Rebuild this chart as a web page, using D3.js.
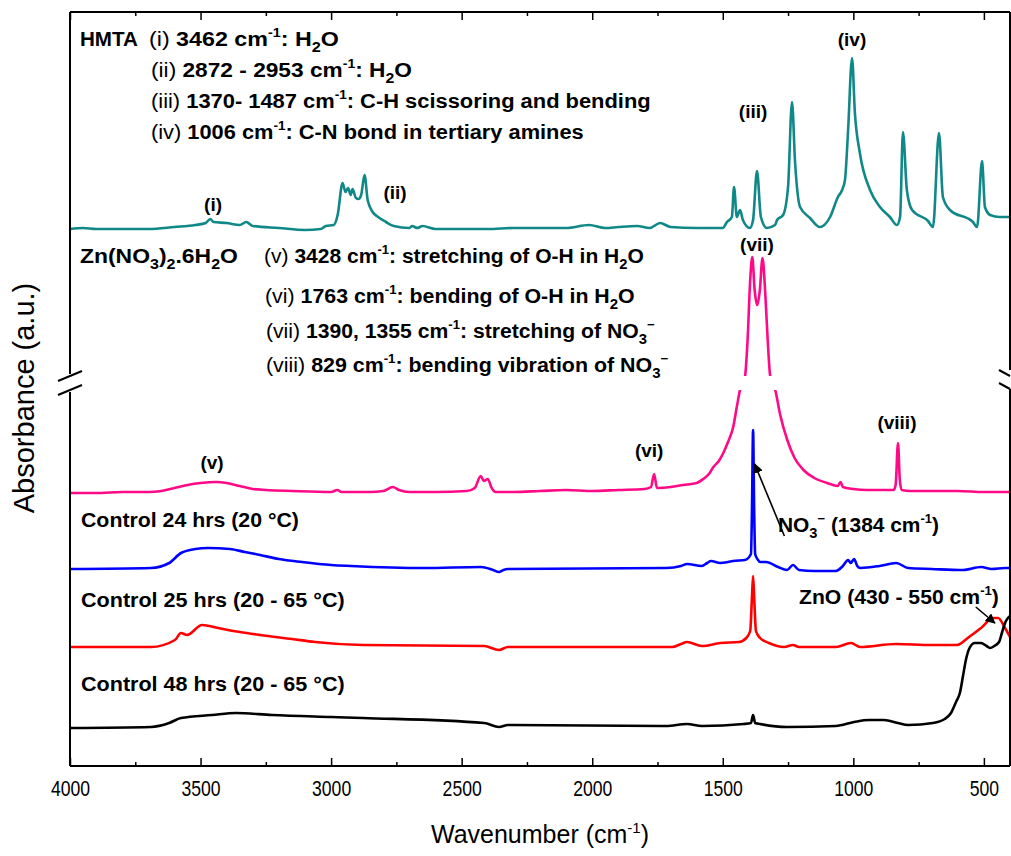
<!DOCTYPE html>
<html>
<head>
<meta charset="utf-8">
<script src="https://cdn.jsdelivr.net/npm/d3@7"></script>
<style>
html, body { margin: 0; padding: 0; background: #fff; }
svg { display: block; }
text { white-space: pre; }
</style>
</head>
<body>
<div id="chart"></div>
<script>
// wavenumber ticks
const majorTicks = [4000, 3500, 3000, 2500, 2000, 1500, 1000, 500];
const minorTicks = [3750, 3250, 2750, 2250, 1750, 1250, 750];

// spectra: [wavenumber (cm-1), absorbance (a.u., stacked offset)]
const hmta = [[4000,537],[3950,538],[3900,537],[3800,537],[3700,537],[3600,539],[3520,541],[3480,543],[3463,547],[3450,544],[3400,543],[3350,541],[3325,544],[3300,540],[3200,538],[3100,536],[3040,537],[3020,540],[2990,541],[2975,551],[2956,583],[2945,574],[2935,578],[2925,571],[2918,577],[2905,568],[2895,567],[2885,571],[2872,591],[2860,566],[2841,554],[2820,549],[2790,544],[2760,540],[2700,538],[2690,540],[2670,538],[2650,540],[2600,537],[2500,537],[2400,537],[2300,538],[2200,538],[2100,538],[2012,541],[1950,538],[1900,539],[1828,540],[1780,538],[1740,543],[1700,539],[1600,538],[1500,538],[1484,544],[1465,549],[1457,579],[1446,549],[1434,556],[1423,546],[1396,538],[1384,546],[1369,595],[1354,549],[1331,538],[1300,541],[1292,546],[1269,551],[1250,579],[1235,664],[1223,603],[1204,559],[1166,548],[1128,539],[1089,549],[1059,569],[1043,576],[1032,586],[1020,636],[1005,708],[994,653],[975,613],[936,576],[898,559],[860,549],[833,541],[821,549],[810,634],[795,576],[775,556],[714,545],[695,539],[672,633],[657,569],[630,556],[542,544],[526,539],[507,605],[496,559],[476,551],[440,549],[400,549]];

const znNitrate = [[4000,273],[3900,273],[3800,274],[3700,274],[3650,275],[3600,278],[3550,281],[3500,283],[3440,284],[3400,283],[3350,280],[3300,277],[3250,276],[3150,275],[3000,274],[2976,276],[2960,274],[2850,274],[2800,275],[2764,279],[2740,276],[2700,274],[2600,274],[2480,275],[2450,278],[2427,290],[2415,285],[2400,287],[2385,278],[2370,274],[2300,274],[2200,275],[2100,276],[2000,275],[1900,276],[1800,277],[1775,279],[1763,292],[1752,278],[1700,279],[1652,281],[1600,283],[1575,287],[1550,293],[1536,299],[1515,305],[1498,313],[1480,324],[1460,339],[1445,361],[1434,376],[1415,389],[1405,426],[1395,486],[1387,509],[1378,476],[1368,461],[1358,476],[1348,508],[1338,476],[1328,426],[1318,389],[1299,376],[1280,351],[1253,326],[1225,308],[1191,296],[1150,288],[1100,283],[1060,280],[1049,284],[1040,279],[1000,277],[950,276],[846,276],[838,281],[829,323],[822,286],[815,276],[780,275],[700,275],[600,275],[500,274],[400,274]];

const control24 = [[4000,197],[3690,198],[3620,203],[3575,213],[3520,217],[3472,218],[3387,217],[3330,214],[3272,211],[3200,207],[3112,204],[3000,201],[2924,200],[2644,198],[2426,199],[2380,196],[2357,194],[2340,196],[2323,197],[1717,198],[1660,200],[1637,202],[1580,200],[1560,203],[1545,205],[1510,203],[1480,204],[1461,205],[1415,206],[1392,212],[1388,260],[1384,336],[1380,260],[1376,212],[1365,206],[1357,204],[1334,204],[1288,199],[1254,196],[1231,201],[1208,196],[1150,195],[1067,195],[1040,200],[1020,206],[1010,203],[997,207],[985,200],[974,198],[900,200],[836,203],[790,198],[700,197],[580,196],[511,199],[470,197],[419,198],[400,198]];

const control25 = [[4000,119],[3690,119],[3598,126],[3575,133],[3552,131],[3494,141],[3433,138],[3350,134],[3272,131],[3150,127],[3062,124],[2878,121],[2414,120],[2357,116],[2323,119],[1694,119],[1660,122],[1637,124],[1580,120],[1510,123],[1438,124],[1410,128],[1395,135],[1388,170],[1384,190],[1380,170],[1373,135],[1357,128],[1323,123],[1265,119],[1231,121],[1208,119],[1067,119],[1009,123],[974,119],[837,122],[700,121],[603,121],[557,129],[511,138],[465,148],[446,148],[419,138],[400,129]];

const control48 = [[4000,38],[3690,39],[3620,43],[3575,48],[3456,51],[3364,53],[3226,51],[3000,49],[2878,48],[2414,43],[2357,39],[2323,41],[1717,40],[1637,42],[1580,40],[1420,42],[1392,43],[1384,51],[1376,43],[1357,42],[1254,39],[1067,40],[997,44],[940,46],[882,46],[830,43],[790,41],[695,43],[650,47],[626,53],[605,65],[592,73],[580,90],[569,106],[555,118],[535,123],[511,123],[490,120],[477,118],[460,120],[442,124],[430,134],[419,143],[408,148],[400,150]];

const series = [
  {name: "HMTA", data: hmta, color: "#118888"},
  {name: "Zn(NO3)2.6H2O", data: znNitrate, color: "#ff0a86", clip: true},
  {name: "Control 24 hrs", data: control24, color: "#0000ff"},
  {name: "Control 25 hrs", data: control25, color: "#ff0000"},
  {name: "Control 48 hrs", data: control48, color: "#000000"}
];

// peak labels: [text, wavenumber, absorbance]
const peakLabels = [["(i)",3452,555],["(ii)",2755,567],["(iii)",1384,648],["(iv)",1005,720],
  ["(v)",3456,297],["(vi)",1782,309],["(vii)",1369,515],["(viii)",833,337]];

const hmtaNotes = ["{(i)} 3462 cm^{-1}: H_{2}O", "{(ii)} 2872 - 2953 cm^{-1}: H_{2}O",
  "{(iii)} 1370- 1487 cm^{-1}: C-H scissoring and bending", "{(iv)} 1006 cm^{-1}: C-N bond in tertiary amines"];
const znNotes = ["{(v)} 3428 cm^{-1}: stretching of O-H in H_{2}O", "{(vi)} 1763 cm^{-1}: bending of O-H in H_{2}O",
  "{(vii)} 1390, 1355 cm^{-1}: stretching of NO_{3}^{\u2212}", "{(viii)} 829 cm^{-1}: bending vibration of NO_{3}^{\u2212}"];
const controlNames = ["Control 24 hrs (20 \u00B0C)", "Control 25 hrs (20 - 65 \u00B0C)", "Control 48 hrs (20 - 65 \u00B0C)"];

const width = 1011, height = 856;
const mLeft = 70, mRight = 1010, mTop = 12, mBottom = 766;
const breakTop = 376, breakBottom = 390;
const sans = "'Liberation Sans', Arial, sans-serif";

const x = d3.scaleLinear().domain([4000, 400]).range([mLeft, mRight]);
const y = d3.scaleLinear().domain([0, 754]).range([mBottom, mTop]);

const svg = d3.select("#chart").append("svg")
    .attr("width", width)
    .attr("height", height);

// clip the broken part of the y axis
svg.append("clipPath").attr("id", "brk")
  .selectAll("rect")
  .data([[0, breakTop], [breakBottom, height]])
  .join("rect")
    .attr("x", 0).attr("width", width)
    .attr("y", d => d[0]).attr("height", d => d[1] - d[0]);

const line = d3.line().x(d => x(d[0])).y(d => y(d[1])).curve(d3.curveMonotoneX);

svg.append("g")
  .selectAll("path")
  .data(series)
  .join("path")
    .attr("fill", "none")
    .attr("stroke", d => d.color)
    .attr("stroke-width", 2.6)
    .attr("stroke-linejoin", "round")
    .attr("clip-path", d => d.clip ? "url(#brk)" : null)
    .attr("d", d => line(d.data));

// axes (ticks inward)
const bx = svg.append("g")
    .attr("transform", `translate(0,${mBottom})`)
    .call(d3.axisBottom(x).tickValues(majorTicks).tickSize(-8).tickPadding(14).tickFormat(d3.format("d")));
bx.selectAll("text").attr("font-family", sans).attr("font-size", 22).attr("fill", "#000")
    .attr("transform", "scale(0.8,1)");
bx.append("g").call(d3.axisBottom(x).tickValues(minorTicks).tickSize(-4).tickFormat(""));

const tx = svg.append("g").attr("transform", `translate(0,${mTop})`);
tx.call(d3.axisTop(x).tickValues(majorTicks).tickSize(-8).tickFormat(""));
tx.append("g").call(d3.axisTop(x).tickValues(minorTicks).tickSize(-4).tickFormat(""));

svg.selectAll(".domain").remove();
svg.selectAll(".tick line").attr("stroke", "#000").attr("stroke-width", 1.5);

// frame with broken y axes
const frame = svg.append("g").attr("stroke", "#000").attr("stroke-width", 2).attr("fill", "none");
frame.append("path").attr("d",
  `M${mLeft},${mTop}H${mRight}M${mLeft},${mBottom}H${mRight}` +
  `M${mLeft},${mTop}V${breakTop - 2}M${mLeft},${breakBottom + 2}V${mBottom}` +
  `M${mRight},${mTop}V${breakTop - 6}M${mRight},${breakBottom - 1}V${mBottom}`);
frame.append("path").attr("d",
  `M${mLeft - 12},${breakTop + 5}L${mLeft + 12},${breakTop - 5}` +
  `M${mLeft - 12},${breakBottom + 5}L${mLeft + 12},${breakBottom - 5}` +
  `M${mRight - 11},${breakTop - 6}L${mRight},${breakTop}` +
  `M${mRight - 11},${breakBottom - 7}L${mRight},${breakBottom - 1}`);

// axis titles
const xt = svg.append("text")
    .attr("x", (mLeft + mRight) / 2).attr("y", 843)
    .attr("text-anchor", "middle")
    .attr("font-family", sans).attr("font-size", 25);
xt.append("tspan").text("Wavenumber (cm");
xt.append("tspan").attr("dy", -10).attr("font-size", 15).text("-1");
xt.append("tspan").attr("dy", 10).text(")");

svg.append("text")
    .attr("transform", `translate(34,398) rotate(-90)`)
    .attr("text-anchor", "middle")
    .attr("font-family", sans).attr("font-size", 29)
    .text("Absorbance (a.u.)");

// rich text: ^{..} superscript, _{..} subscript, {..} normal weight;
// squeezed horizontally to span [px, pEnd] like the condensed original font
function rich(g, px, py, pEnd, str, size) {
  const t = g.append("text").attr("x", px).attr("y", py)
      .attr("font-family", sans).attr("font-size", size).attr("font-weight", "bold");
  let shift = 0;
  str.split(/(\^\{[^}]*\}|_\{[^}]*\}|\{[^}]*\})/).filter(s => s).forEach(s => {
    let dy = 0, txt = s, fs = null, fw = null;
    if (s.startsWith("^{")) { txt = s.slice(2, -1); dy = -0.42 * size; fs = 0.62 * size; }
    else if (s.startsWith("_{")) { txt = s.slice(2, -1); dy = 0.3 * size; fs = 0.7 * size; }
    else if (s.startsWith("{")) { txt = s.slice(1, -1); fw = "normal"; }
    const ts = t.append("tspan").attr("dy", dy - shift).text(txt);
    shift = dy;
    if (fs) ts.attr("font-size", fs);
    if (fw) ts.attr("font-weight", fw);
  });
  const w = t.node().getBBox().width;
  const k = (pEnd - px) / w;
  t.attr("transform", `translate(${px},0) scale(${k},1) translate(${-px},0)`);
  return t;
}

const notes = svg.append("g").attr("fill", "#000");
const fs = 21;
rich(notes, 80, 46, 138, "HMTA", fs);
hmtaNotes.forEach((s, i) => rich(notes, [149, 151, 151, 151][i], 46 + i * 31, [339, 412, 651, 584][i], s, fs));
rich(notes, 80, 263, 238, "Zn(NO_{3})_{2}.6H_{2}O", fs);
znNotes.forEach((s, i) => rich(notes, [264, 265, 266, 266][i], [263, 303, 338, 372][i], [644, 635, 655, 669][i], s, fs));
controlNames.forEach((s, i) => rich(notes, 81, [527, 607, 691][i], [299, 345, 345][i], s, fs));
rich(notes, 778, 532, 939, "NO_{3}^{\u2212} (1384 cm^{-1})", fs);
rich(notes, 799, 604, 999, "ZnO (430 - 550 cm^{-1})", fs);

svg.append("g")
  .selectAll("text")
  .data(peakLabels)
  .join("text")
    .attr("x", d => x(d[1])).attr("y", d => y(d[2]))
    .attr("text-anchor", "middle")
    .attr("font-family", sans).attr("font-size", 19).attr("font-weight", "bold")
    .text(d => d[0]);

// arrows
svg.append("defs").append("marker")
    .attr("id", "arr").attr("viewBox", "0 0 10 10").attr("refX", 9).attr("refY", 5)
    .attr("markerWidth", 10).attr("markerHeight", 10).attr("markerUnits", "userSpaceOnUse")
    .attr("orient", "auto")
  .append("path").attr("d", "M0,0L10,5L0,10z").attr("fill", "#000");
svg.append("g").attr("stroke", "#000").attr("stroke-width", 1.6)
  .selectAll("line")
  .data([[[1264, 230], [1378, 302]], [[531, 159], [458, 143]]])
  .join("line")
    .attr("x1", d => x(d[0][0])).attr("y1", d => y(d[0][1]))
    .attr("x2", d => x(d[1][0])).attr("y2", d => y(d[1][1]))
    .attr("marker-end", "url(#arr)");
</script>
</body>
</html>
